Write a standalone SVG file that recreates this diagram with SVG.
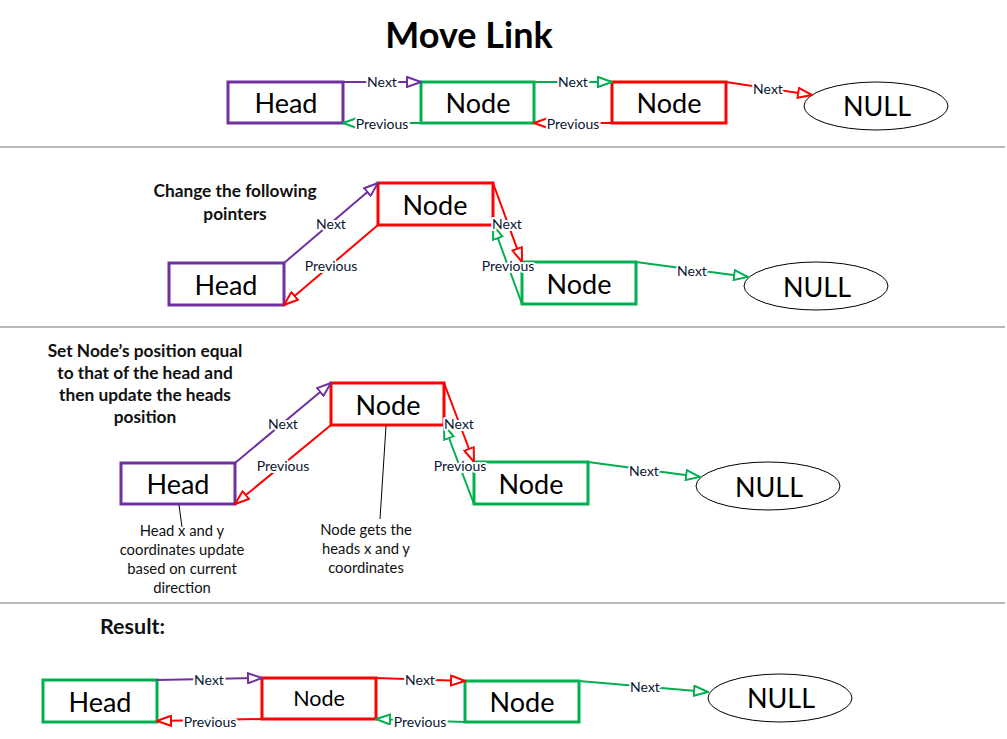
<svg xmlns="http://www.w3.org/2000/svg" width="1007" height="739" viewBox="0 0 1007 739">
<style>
.bg{fill:#fff}
.box{fill:#fff;stroke-width:3}
.pu{stroke:#7030A0}
.gr{stroke:#00B050}
.rd{stroke:#FF0000}
.nul{fill:#fff;stroke:#000;stroke-width:1}
.nt{font-family:Lato,"Liberation Sans",sans-serif;font-size:27px;fill:#000;text-anchor:middle;dominant-baseline:central}
.lb{font-family:Lato,"Liberation Sans",sans-serif;font-size:14px;fill:#0a1530;text-anchor:middle;dominant-baseline:central;stroke:#fff;stroke-width:4;paint-order:stroke;stroke-linejoin:round}
.ct{font-family:Lato,"Liberation Sans",sans-serif;font-size:14.8px;fill:#111;text-anchor:middle}
.bt{font-family:Lato,"Liberation Sans",sans-serif;font-weight:bold;font-size:17.3px;fill:#111;text-anchor:middle}
.sep{stroke:#707070;stroke-width:1}
.cn{fill:none;stroke-width:2}
.call{stroke:#000;stroke-width:1}
</style>
<defs>
<marker id="ap" viewBox="0 0 16 12" refX="15" refY="6" markerWidth="16" markerHeight="12" markerUnits="userSpaceOnUse" orient="auto"><path d="M1,1 L15,6 L1,11 z" fill="#fff" stroke="#7030A0" stroke-width="2"/></marker>
<marker id="ag" viewBox="0 0 16 12" refX="15" refY="6" markerWidth="16" markerHeight="12" markerUnits="userSpaceOnUse" orient="auto"><path d="M1,1 L15,6 L1,11 z" fill="#fff" stroke="#00B050" stroke-width="2"/></marker>
<marker id="ar" viewBox="0 0 16 12" refX="15" refY="6" markerWidth="16" markerHeight="12" markerUnits="userSpaceOnUse" orient="auto"><path d="M1,1 L15,6 L1,11 z" fill="#fff" stroke="#FF0000" stroke-width="2"/></marker>
</defs>
<rect class="bg" x="0" y="0" width="1007" height="739"/>

<g id="separators">
<line class="sep" x1="0" y1="147" x2="1005" y2="147"/>
<line class="sep" x1="0" y1="327" x2="1005" y2="327"/>
<line class="sep" x1="0" y1="603" x2="1005" y2="603"/>
</g>

<text id="title" x="469" y="48" font-family="Lato,'Liberation Sans',sans-serif" font-weight="bold" font-size="36" text-anchor="middle" fill="#000">Move Link</text>

<!-- Section 1 nodes -->
<g id="s1-head"><rect class="box pu" x="228" y="82" width="115" height="41"/><text class="nt" x="286" y="102">Head</text></g>
<g id="s1-node1"><rect class="box gr" x="421" y="82" width="113" height="41"/><text class="nt" x="478" y="102">Node</text></g>
<g id="s1-node2"><rect class="box rd" x="612" y="82" width="114" height="41"/><text class="nt" x="669" y="102">Node</text></g>
<g id="s1-null"><ellipse class="nul" cx="876" cy="106" rx="72" ry="24"/><text class="nt" x="877" y="105">NULL</text></g>

<!-- Section 2 -->
<g id="s2-caption"><text class="bt" x="235" y="197">Change the following</text><text class="bt" x="235" y="220">pointers</text></g>
<g id="s2-node-red"><rect class="box rd" x="378" y="183" width="115" height="42"/><text class="nt" x="435" y="204">Node</text></g>
<g id="s2-head"><rect class="box pu" x="169" y="263" width="115" height="42"/><text class="nt" x="226" y="284">Head</text></g>
<g id="s2-node-green"><rect class="box gr" x="522" y="262" width="114" height="42"/><text class="nt" x="579" y="283">Node</text></g>
<g id="s2-null"><ellipse class="nul" cx="816" cy="286" rx="72" ry="24"/><text class="nt" x="817" y="286">NULL</text></g>

<!-- Section 3 -->
<g id="s3-caption">
<text class="bt" x="145" y="357">Set Node’s position equal</text>
<text class="bt" x="145" y="379">to that of the head and</text>
<text class="bt" x="145" y="401">then update the heads</text>
<text class="bt" x="145" y="423">position</text>
</g>
<g id="s3-node-red"><rect class="box rd" x="331" y="383" width="113" height="42"/><text class="nt" x="388" y="404">Node</text></g>
<g id="s3-head"><rect class="box pu" x="121" y="463" width="114" height="41"/><text class="nt" x="178" y="483">Head</text></g>
<g id="s3-node-green"><rect class="box gr" x="474" y="462" width="114" height="42"/><text class="nt" x="531" y="483">Node</text></g>
<g id="s3-null"><ellipse class="nul" cx="768" cy="486" rx="72" ry="24"/><text class="nt" x="769" y="486">NULL</text></g>
<g id="s3-head-note">
<text class="ct" x="182" y="536">Head x and y</text>
<text class="ct" x="182" y="555">coordinates update</text>
<text class="ct" x="182" y="574">based on current</text>
<text class="ct" x="182" y="593">direction</text>
</g>
<g id="s3-node-note">
<text class="ct" x="366" y="535">Node gets the</text>
<text class="ct" x="366" y="554">heads x and y</text>
<text class="ct" x="366" y="573">coordinates</text>
</g>

<!-- Section 4 -->
<text id="result" x="100" y="634" font-family="Lato,'Liberation Sans',sans-serif" font-weight="bold" font-size="21.5" fill="#111">Result:</text>
<g id="s4-head"><rect class="box gr" x="43" y="680" width="114" height="42"/><text class="nt" x="100" y="701">Head</text></g>
<g id="s4-node-red"><rect class="box rd" x="262" y="678" width="114" height="41"/><text class="nt" x="319" y="698" style="font-size:21.5px">Node</text></g>
<g id="s4-node-green"><rect class="box gr" x="465" y="681" width="114" height="41"/><text class="nt" x="522" y="701">Node</text></g>
<g id="s4-null"><ellipse class="nul" cx="780" cy="698" rx="72" ry="24"/><text class="nt" x="781" y="697">NULL</text></g>

<!-- Connectors -->
<g id="connectors">
<!-- section 1 -->
<line class="cn pu" x1="343" y1="82" x2="421" y2="82" marker-end="url(#ap)"/>
<line class="cn gr" x1="421" y1="123" x2="343" y2="123" marker-end="url(#ag)"/>
<line class="cn gr" x1="534" y1="82" x2="612" y2="82" marker-end="url(#ag)"/>
<line class="cn rd" x1="612" y1="123" x2="534" y2="123" marker-end="url(#ar)"/>
<line class="cn rd" x1="726" y1="82" x2="812" y2="95" marker-end="url(#ar)"/>
<!-- section 2 -->
<line class="cn pu" x1="284" y1="263" x2="378" y2="183" marker-end="url(#ap)"/>
<line class="cn rd" x1="378" y1="225" x2="284" y2="305" marker-end="url(#ar)"/>
<line class="cn rd" x1="493" y1="183" x2="522" y2="262" marker-end="url(#ar)"/>
<line class="cn gr" x1="522" y1="304" x2="493" y2="225" marker-end="url(#ag)"/>
<line class="cn gr" x1="636" y1="262" x2="748" y2="277" marker-end="url(#ag)"/>
<!-- section 3 -->
<line class="cn pu" x1="235" y1="463" x2="331" y2="383" marker-end="url(#ap)"/>
<line class="cn rd" x1="331" y1="425" x2="235" y2="504" marker-end="url(#ar)"/>
<line class="cn rd" x1="444" y1="383" x2="474" y2="462" marker-end="url(#ar)"/>
<line class="cn gr" x1="474" y1="504" x2="444" y2="425" marker-end="url(#ag)"/>
<line class="cn gr" x1="588" y1="462" x2="700" y2="477" marker-end="url(#ag)"/>
<line class="call" x1="179" y1="505" x2="182" y2="527"/>
<line class="call" x1="386" y1="426" x2="380" y2="519"/>
<!-- section 4 -->
<line class="cn pu" x1="157" y1="680" x2="262" y2="678" marker-end="url(#ap)"/>
<line class="cn rd" x1="262" y1="719" x2="157" y2="721" marker-end="url(#ar)"/>
<line class="cn rd" x1="376" y1="678" x2="465" y2="681" marker-end="url(#ar)"/>
<line class="cn gr" x1="465" y1="722" x2="376" y2="719" marker-end="url(#ag)"/>
<line class="cn gr" x1="579" y1="681" x2="708" y2="692" marker-end="url(#ag)"/>

<!-- labels -->
<text class="lb" x="382" y="81">Next</text>
<text class="lb" x="382" y="123">Previous</text>
<text class="lb" x="573" y="81">Next</text>
<text class="lb" x="573" y="123">Previous</text>
<text class="lb" x="768" y="88">Next</text>

<text class="lb" x="331" y="223">Next</text>
<text class="lb" x="331" y="265">Previous</text>
<text class="lb" x="507" y="223">Next</text>
<text class="lb" x="508" y="265">Previous</text>
<text class="lb" x="692" y="270">Next</text>

<text class="lb" x="283" y="423">Next</text>
<text class="lb" x="283" y="465">Previous</text>
<text class="lb" x="459" y="423">Next</text>
<text class="lb" x="460" y="465">Previous</text>
<text class="lb" x="644" y="470">Next</text>

<text class="lb" x="209" y="679">Next</text>
<text class="lb" x="210" y="721">Previous</text>
<text class="lb" x="420" y="679">Next</text>
<text class="lb" x="420" y="721">Previous</text>
<text class="lb" x="645" y="686">Next</text>
</g>
</svg>
